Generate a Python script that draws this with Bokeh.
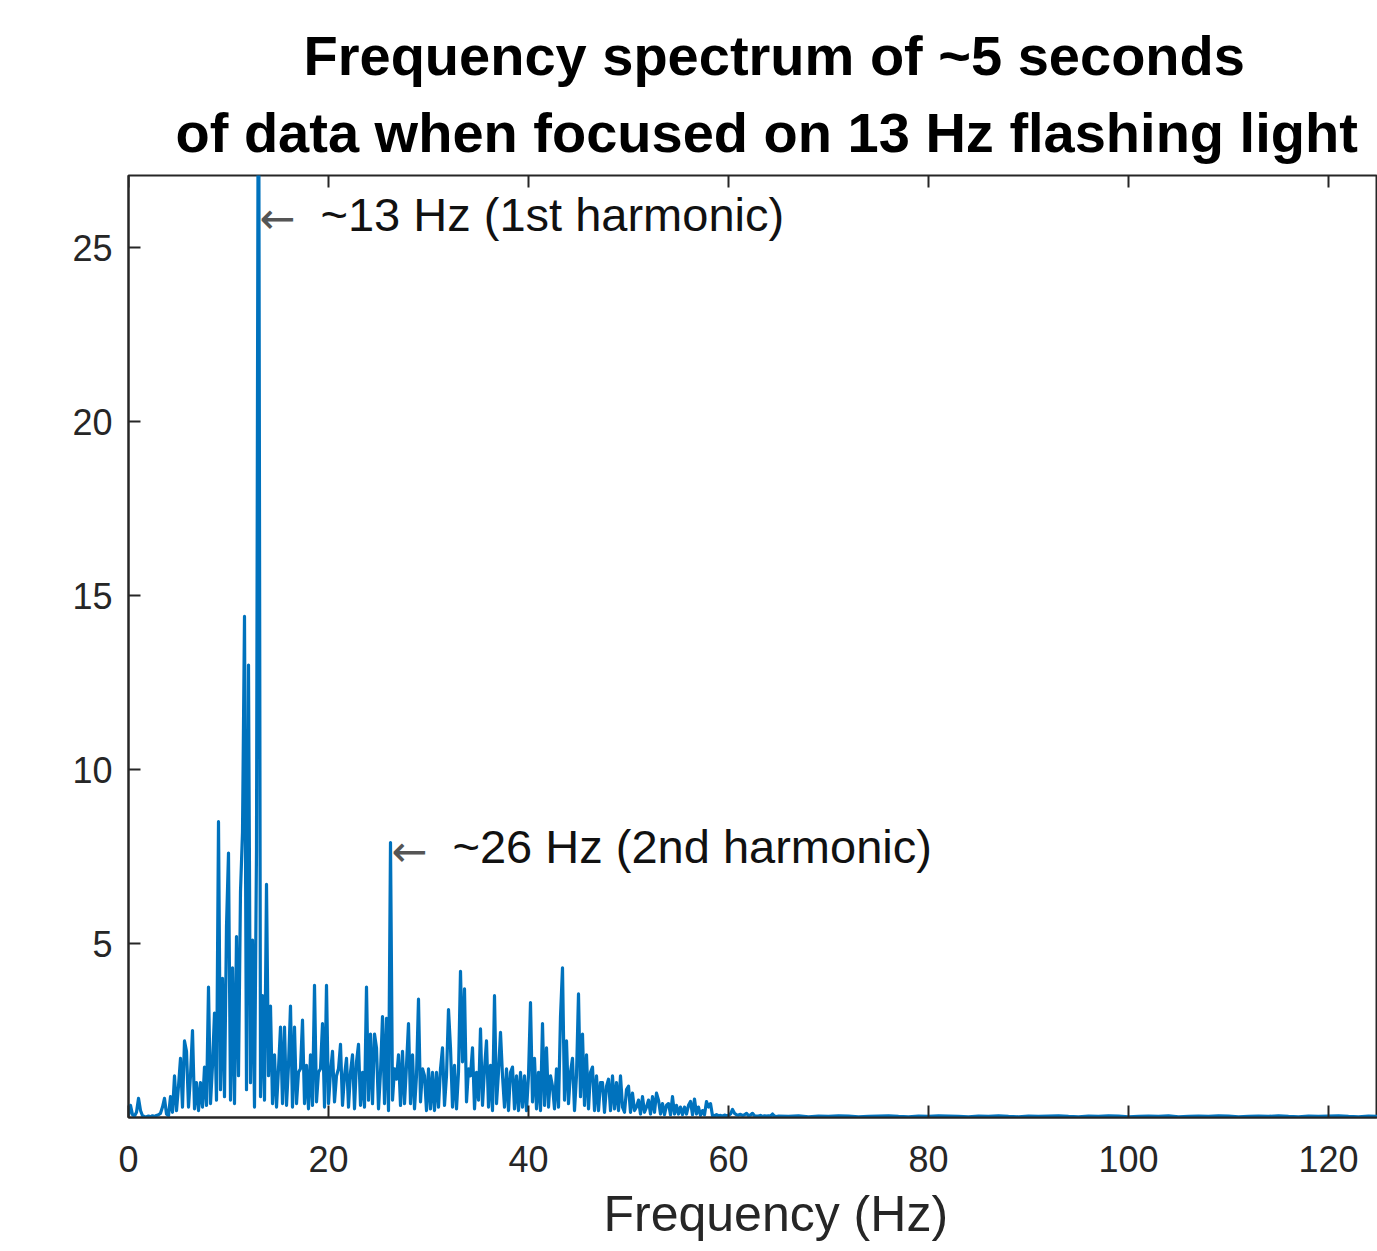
import numpy as np
from bokeh.plotting import figure
from bokeh.models import Title, FixedTicker, Range1d, ColumnDataSource
from bokeh.core.properties import value
from bokeh.embed import file_html
from bokeh.resources import INLINE

# ---------------- data ----------------
# amplitude at 0.2 Hz steps, one row per Hz (x.0, x.2, x.4, x.6, x.8)
amp_0_10 = [
    0.05, 0.35, 0.08, 0.04, 0.15,
    0.55, 0.2, 0.05, 0.03, 0.02,
    0.04, 0.02, 0.05, 0.03, 0.06,
    0.08, 0.12, 0.3, 0.55, 0.1,
    0.05, 0.6, 0.15, 1.2, 0.2,
    0.9, 1.7, 0.3, 2.2, 1.9,
    0.3, 1.2, 2.5, 0.25, 1.0,
    0.2, 1.0, 0.3, 1.45, 0.35,
    3.75, 0.4, 1.5, 3.0, 0.5,
    8.5, 0.8, 4.0, 0.6, 5.5,
]
amp_10_20 = [
    7.6, 0.5, 4.3, 0.4, 5.2,
    1.2, 6.5, 8.2, 14.4, 0.8,
    13.0, 1.0, 5.1, 0.3, 7.7,
    34.0, 0.6, 3.5, 0.5, 6.7,
    1.2, 3.2, 0.4, 1.8, 0.3,
    1.4, 2.6, 0.4, 2.6, 0.35,
    1.5, 3.2, 0.3, 2.6, 0.4,
    1.3, 1.4, 2.8, 0.4, 1.5,
    0.25, 1.8, 0.35, 3.8, 0.45,
    1.3, 1.4, 2.7, 0.3, 3.8,
]
amp_20_30 = [
    0.4, 1.3, 1.9, 0.45, 1.2,
    1.4, 2.1, 0.35, 1.2, 1.7,
    0.3, 1.3, 1.8, 0.25, 1.6,
    2.1, 0.35, 1.3, 0.3, 3.75,
    0.5, 2.4, 0.4, 2.4, 2.0,
    0.25, 1.3, 2.9, 0.4, 2.85,
    0.2, 7.9, 0.5, 1.4, 1.1,
    1.8, 0.35, 1.9, 0.4, 1.5,
    2.7, 0.4, 1.8, 0.25, 1.2,
    3.4, 0.45, 1.4, 1.2, 0.2,
]
amp_30_40 = [
    1.4, 0.25, 1.3, 0.2, 1.3,
    0.3, 1.4, 2.0, 0.35, 1.2,
    3.1, 2.0, 0.3, 1.5, 0.25,
    1.3, 4.2, 1.6, 3.7, 0.45,
    1.4, 1.2, 2.0, 0.25, 1.3,
    0.5, 2.55, 0.35, 1.4, 2.2,
    0.3, 1.5, 0.2, 3.5, 0.4,
    1.3, 2.45, 1.2, 0.3, 1.4,
    0.2, 1.3, 1.45, 0.25, 1.2,
    0.2, 1.3, 0.3, 1.2, 0.2,
]
amp_40_50 = [
    1.2, 3.3, 0.45, 1.7, 0.25,
    1.3, 0.2, 2.7, 0.35, 2.0,
    0.3, 1.2, 0.9, 0.25, 1.4,
    0.3, 2.9, 4.3, 0.5, 2.2,
    0.4, 1.3, 1.7, 0.2, 1.2,
    3.55, 0.6, 2.4, 0.35, 1.8,
    0.25, 1.3, 1.45, 0.2, 1.2,
    0.2, 1.0, 1.0, 0.15, 0.9,
    1.1, 0.2, 1.2, 0.25, 1.0,
    0.2, 1.2, 0.3, 0.15, 0.8,
]
amp_50_65 = [
    0.9, 0.15, 0.7, 0.2, 0.3,
    0.5, 0.1, 0.6, 0.15, 0.3,
    0.5, 0.1, 0.6, 0.15, 0.7,
    0.5, 0.1, 0.4, 0.08, 0.35,
    0.4, 0.08, 0.6, 0.1, 0.35,
    0.1, 0.3, 0.08, 0.3, 0.1,
    0.35, 0.46, 0.08, 0.53, 0.1,
    0.3, 0.06, 0.2, 0.08, 0.46,
    0.3, 0.4, 0.05, 0.05, 0.08,
    0.05, 0.06, 0.04, 0.07, 0.05,
    0.06, 0.1, 0.23, 0.12, 0.08,
    0.07, 0.09, 0.06, 0.08, 0.12,
    0.05, 0.07, 0.12, 0.05, 0.04,
    0.04, 0.06, 0.03, 0.05, 0.04,
    0.05, 0.04, 0.1, 0.04, 0.03,
]
# 65 .. 125 Hz at 1 Hz steps (near-zero tail)
amp_tail = [
    0.04, 0.03, 0.05, 0.02, 0.04, 0.03, 0.05, 0.04, 0.02, 0.03,
    0.04, 0.05, 0.03, 0.02, 0.04, 0.03, 0.05, 0.04, 0.03, 0.02,
    0.04, 0.03, 0.05, 0.03, 0.02, 0.04, 0.03, 0.04, 0.05, 0.03,
    0.02, 0.04, 0.03, 0.05, 0.04, 0.02, 0.03, 0.04, 0.03, 0.05,
    0.02, 0.03, 0.04, 0.03, 0.05, 0.04, 0.02, 0.03, 0.04, 0.03,
    0.05, 0.03, 0.02, 0.04, 0.03, 0.04, 0.05, 0.03, 0.02, 0.04,
    0.03,
]

x_ticks = [0, 20, 40, 60, 80, 100, 120]
y_ticks = [5, 10, 15, 20, 25]
x_max = 124.9
y_max = 27.07

ann_freq = [13.0, 26.2]
ann_amp = [25.9, 7.72]
ann_text = ["~13 Hz (1st harmonic)", "~26 Hz (2nd harmonic)"]

title_line1 = "Frequency spectrum of ~5 seconds"
title_line2 = "of data when focused on 13 Hz flashing light"
x_label = "Frequency (Hz)"

# ---------------- build ----------------
amp_main = amp_0_10 + amp_10_20 + amp_20_30 + amp_30_40 + amp_40_50 + amp_50_65
freq_main = [round(i * 0.2, 1) for i in range(len(amp_main))]
freq_tail = [65 + i for i in range(len(amp_tail))]
freq = freq_main + freq_tail
amp = amp_main + amp_tail

FONT = "Liberation Sans"
AX = "#262626"

p = figure(width=1377, height=1251, output_backend="svg", toolbar_location=None,
           x_range=Range1d(0, x_max), y_range=Range1d(0, y_max),
           min_border_left=128, min_border_right=0, min_border_top=175,
           min_border_bottom=134, title=None)
p.outline_line_color = AX
p.outline_line_width = 2
p.xgrid.visible = False
p.ygrid.visible = False
p.background_fill_color = "white"
p.border_fill_color = "white"

src = ColumnDataSource(dict(f=freq, a=amp))
p.line("f", "a", source=src, line_color="#0072BD", line_width=3.2,
       line_join="round")

# inward ticks along the top edge of the box
p.scatter(x=x_ticks, y=[y_max] * len(x_ticks), marker="dash", angle=np.pi / 2,
          size=24, line_color=AX, line_width=2)

# annotations
asrc = ColumnDataSource(dict(x=ann_freq, y=ann_amp, t=ann_text, arr=["\u2190"] * len(ann_text)))
p.text("x", "y", text="arr", source=asrc, text_font=value("DejaVu Sans"),
       text_font_size="43px", text_color="#555555", text_baseline="middle",
       text_align="left", x_offset=1, y_offset=2)
p.text("x", "y", text="t", source=asrc, text_font=value(FONT),
       text_font_size="47px", text_color="#111111", text_baseline="middle",
       text_align="left", x_offset=62, y_offset=-2)

# axes
for ax in (p.xaxis[0], p.yaxis[0]):
    ax.axis_line_color = AX
    ax.axis_line_width = 2
    ax.major_tick_line_color = AX
    ax.major_tick_line_width = 2
    ax.major_tick_in = 12
    ax.major_tick_out = 0
    ax.minor_tick_line_color = None
    ax.major_label_text_font = FONT
    ax.major_label_text_font_size = "36px"
    ax.major_label_text_color = AX

p.xaxis[0].ticker = FixedTicker(ticks=x_ticks)
p.yaxis[0].ticker = FixedTicker(ticks=y_ticks)
p.xaxis[0].major_label_standoff = 28
p.yaxis[0].major_label_standoff = 16

xl = Title(text=x_label, align="left", text_font=FONT, text_font_size="50px",
           text_font_style="normal", text_color=AX, offset=475, standoff=18)
p.add_layout(xl, "below")

t2 = Title(text=title_line2, align="left", text_font=FONT, text_font_size="56px",
           text_font_style="bold", text_color="black", offset=47, standoff=24)
t1 = Title(text=title_line1, align="left", text_font=FONT, text_font_size="56px",
           text_font_style="bold", text_color="black", offset=175, standoff=0)
p.add_layout(t2, "above")
p.add_layout(t1, "above")

open("out.html", "w").write(file_html(p, INLINE))
